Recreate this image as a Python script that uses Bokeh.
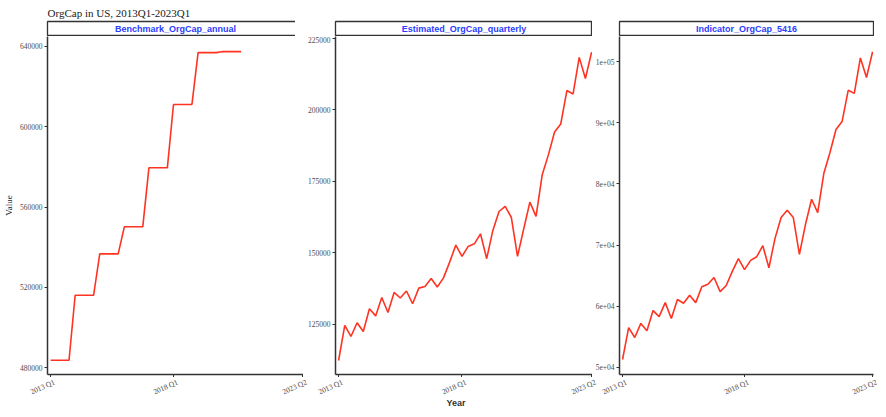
from bokeh.plotting import figure
from bokeh.layouts import row, column
from bokeh.models import Range1d, FixedTicker, Label
from bokeh.core.properties import value
from bokeh.embed import file_html
from bokeh.resources import INLINE

# ---------------- data ----------------
quarters = [f"{y} Q{q}" for y in range(2013, 2024) for q in range(1, 5)][:42]

bench_years = [2013, 2014, 2015, 2016, 2017, 2018, 2019, 2020]
bench_annual = [483800, 516100, 536700, 550150, 579500, 611000, 636800, 637300]

estimated = [112400, 124650, 120800, 125600, 122550, 130500, 128000, 134450,
             129200, 136200, 134250, 136700, 132250, 137700, 138300, 141100,
             138100, 141300, 146800, 152750, 148800, 152300, 153200, 156700,
             148000, 157900, 164500, 166300, 162400, 148800, 158400, 167800,
             162800, 177350, 184300, 192300, 195100, 206800, 205600, 218400,
             211000, 220200]

indicator = [51300, 56500, 54900, 57200, 56000, 59300, 58300, 60600,
             58000, 61100, 60500, 61800, 60600, 63200, 63600, 64700,
             62400, 63400, 65700, 67800, 66000, 67500, 68100, 69900,
             66300, 71100, 74500, 75700, 74500, 68500, 73400, 77500,
             75300, 81700, 85100, 88900, 90200, 95300, 94800, 100600,
             97400, 101600]

panel_names = ["Benchmark_OrgCap_annual", "Estimated_OrgCap_quarterly", "Indicator_OrgCap_5416"]
x_tick_labels = ["2013 Q1", "2018 Q1", "2023 Q2"]

y1_ticks = [480000, 520000, 560000, 600000, 640000]
y1_labels = ["480000", "520000", "560000", "600000", "640000"]
y2_ticks = [125000, 150000, 175000, 200000, 225000]
y2_labels = ["125000", "150000", "175000", "200000", "225000"]
y3_ticks = [50000, 60000, 70000, 80000, 90000, 100000]
y3_labels = ["5e+04", "6e+04", "7e+04", "8e+04", "9e+04", "1e+05"]

title_text = "OrgCap in US, 2013Q1-2023Q1"
x_title = "Year"
y_title = "Value"

# benchmark annual values held constant over each year's quarters
bench_q = [v for v in bench_annual for _ in range(4)]

# ---------------- style / layout ----------------
AXIS_COL = "#333333"
LINE_COL = "#ff3322"
STRIP_TXT = "#2a3cff"
TICK_TXT = "#4d4d4d"
FRAME_H = 338
LAB_W = 878
X_START, X_END = -0.5, 41.15
LEFTS = [39, 32, 27]
FWS = [256, 257, 254]
RIGHTS = [0, 0, 1]


def make_panel(name, values, yticks, ylabels, yrange, left, fw, right,
               ylabel=None, title=None):
    strip = figure(frame_width=fw, frame_height=15, min_border_left=left,
                   min_border_right=right, min_border_top=21, min_border_bottom=0,
                   x_range=Range1d(0, 1), y_range=Range1d(0, 1),
                   toolbar_location=None, output_backend="svg")
    strip.axis.visible = False
    strip.grid.visible = False
    strip.outline_line_color = AXIS_COL
    strip.outline_line_width = 1.3
    strip.add_layout(Label(x=0.5, y=0.5, text=name, text_align="center",
                           text_baseline="middle", text_font="Liberation Sans",
                           text_font_style="bold", text_font_size="9px",
                           text_color=STRIP_TXT))
    if title:
        strip.title.text = title
        strip.title.text_font = "Liberation Serif"
        strip.title.text_font_style = "normal"
        strip.title.text_font_size = "11px"
        strip.title.text_color = "#222222"
        strip.title.standoff = 6
        strip.title.offset = 0

    p = figure(frame_width=fw, frame_height=FRAME_H, min_border_left=left,
               min_border_right=right, min_border_top=0, min_border_bottom=3,
               x_range=Range1d(X_START, X_END), y_range=Range1d(*yrange),
               toolbar_location=None, output_backend="svg")
    p.line(list(range(len(values))), values, line_color=LINE_COL, line_width=1.6)
    p.grid.visible = False
    p.outline_line_color = None

    xt = [quarters.index(l) for l in x_tick_labels]
    p.xaxis.ticker = FixedTicker(ticks=xt)
    p.xaxis.major_label_overrides = {i: "" for i in xt}
    p.xaxis.major_label_text_font_size = "0px"
    p.xaxis.major_label_standoff = 0
    p.yaxis.ticker = FixedTicker(ticks=yticks)
    p.yaxis.major_label_overrides = {t: l for t, l in zip(yticks, ylabels)}
    p.yaxis.major_label_text_font = "Liberation Serif"
    p.yaxis.major_label_text_font_size = "7.5px"
    p.yaxis.major_label_text_color = TICK_TXT
    p.yaxis.major_label_standoff = 2

    for ax in (p.xaxis[0], p.yaxis[0]):
        ax.axis_line_color = AXIS_COL
        ax.axis_line_width = 1.5
        ax.major_tick_line_color = AXIS_COL
        ax.major_tick_in = 0
        ax.major_tick_out = 3
        ax.minor_tick_line_color = None

    if ylabel:
        p.yaxis.axis_label = ylabel
        p.yaxis.axis_label_text_font = "Liberation Serif"
        p.yaxis.axis_label_text_font_style = "normal"
        p.yaxis.axis_label_text_font_size = "9px"
        p.yaxis.axis_label_text_color = "#222222"
        p.yaxis.axis_label_standoff = 3
    return column(strip, p, spacing=0)


c1 = make_panel(panel_names[0], bench_q, y1_ticks, y1_labels, (476700, 644800),
                LEFTS[0], FWS[0], RIGHTS[0], ylabel=y_title, title=title_text)
c2 = make_panel(panel_names[1], estimated, y2_ticks, y2_labels, (107500, 225700),
                LEFTS[1], FWS[1], RIGHTS[1])
c3 = make_panel(panel_names[2], indicator, y3_ticks, y3_labels, (48850, 104100),
                LEFTS[2], FWS[2], RIGHTS[2])

# ---- a strip underneath holding the slanted x tick labels and the x title ----
LAB_H = 33
lab = figure(frame_width=LAB_W, frame_height=LAB_H, min_border=0,
             x_range=Range1d(0, LAB_W), y_range=Range1d(0, LAB_H),
             toolbar_location=None, output_backend="svg")
lab.axis.visible = False
lab.grid.visible = False
lab.outline_line_color = None

offset = 0
for k in range(3):
    frame_left = offset + LEFTS[k]
    s = FWS[k] / (X_END - X_START)          # pixels per quarter
    lab.extra_x_ranges[f"p{k}"] = Range1d(X_START - frame_left / s,
                                          X_START + (LAB_W - frame_left) / s)
    offset += LEFTS[k] + FWS[k] + RIGHTS[k]
    xt = [quarters.index(l) for l in x_tick_labels]
    lab.text(x=xt, y=[LAB_H - 9.5] * len(xt), text=x_tick_labels, angle=0.42,
             x_range_name=f"p{k}", text_align="center", text_baseline="middle",
             text_font=value("Liberation Serif"), text_font_size="7.5px",
             text_color=TICK_TXT)

lab.text(x=[(X_START + X_END) / 2], y=[8], text=[x_title], x_range_name="p1",
         text_align="center", text_baseline="middle",
         text_font=value("Liberation Sans"), text_font_style="bold",
         text_font_size="9px", text_color="#333333")

layout = column(row(c1, c2, c3, spacing=0), lab, spacing=0)

open("out.html", "w").write(file_html(layout, INLINE))
